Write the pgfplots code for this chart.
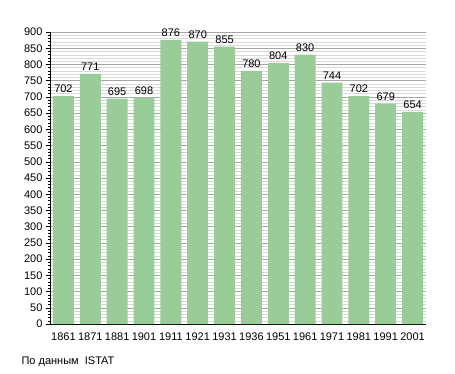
\documentclass[border=0pt]{standalone}
\usepackage{pgfplots}
\pgfplotsset{compat=1.18}
\usepackage{fontspec}
\setmainfont{Liberation Sans}
\definecolor{bargreen}{HTML}{99CC99}
\begin{document}
\begin{tikzpicture}[x=1pt,y=1pt]
\useasboundingbox (0,0) rectangle (455,373);
\begin{axis}[
  at={(50pt,49pt)}, anchor=south west,
  scale only axis, width=376pt, height=292pt,
  xmin=-0.5, xmax=13.5, ymin=0, ymax=900,
  axis lines*=left,
  axis line style={black, line width=0.8pt},
  xtick={0,...,13},
  xticklabels={1861,1871,1881,1901,1911,1921,1931,1936,1951,1961,1971,1981,1991,2001},
  xtick style={draw=none},
  ytick={0,50,...,900},
  minor y tick num=4,
  ymajorgrids, yminorgrids,
  major grid style={gray!70, line width=0.5pt},
  minor grid style={gray!30, line width=0.4pt},
  ytick style={black, line width=0.5pt},
  major tick length=4pt, minor tick length=2pt,
  tick align=outside,
  tick label style={font=\fontsize{11}{13}\selectfont},
  xticklabel style={yshift=-1pt},
  /pgf/number format/assume math mode=true,
  /pgf/number format/1000 sep={},
  ybar, bar width=0.78,
  nodes near coords,
  nodes near coords style={font=\fontsize{11}{13}\selectfont, black, inner sep=1.5pt, yshift=1.5pt},
]
\addplot[fill=bargreen, draw=none] coordinates {
(0,702) (1,771) (2,695) (3,698) (4,876) (5,870) (6,855) (7,780) (8,804) (9,830) (10,744) (11,702) (12,679) (13,654)};
\end{axis}
\node[anchor=west, font=\fontsize{11}{13}\selectfont] at (18,11) {По данным\ \ ISTAT};
\end{tikzpicture}
\end{document}
